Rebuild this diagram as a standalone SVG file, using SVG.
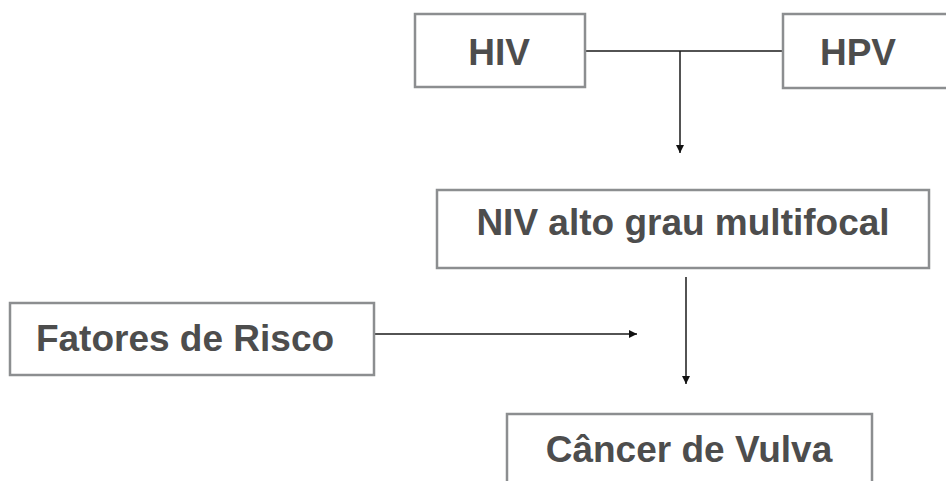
<svg xmlns="http://www.w3.org/2000/svg" width="946" height="481" viewBox="0 0 946 481">
<style>
.box{fill:#fff;stroke:#8c8e90;stroke-width:2.5}
.lbl{font-family:"Liberation Sans",Arial,sans-serif;font-weight:bold;font-size:37px;fill:#4d4d4d;text-anchor:middle}
.con{fill:none;stroke:#1a1a1a;stroke-width:1.5}
</style>
<defs>
<marker id="ah" viewBox="0 0 10 10" refX="10" refY="5" markerWidth="8" markerHeight="8" markerUnits="userSpaceOnUse" orient="auto">
<path d="M0,0 L10,5 L0,10 z" fill="#111"/>
</marker>
</defs>
<rect width="946" height="481" fill="#fff"/>
<g id="connectors">
<line class="con" x1="585" y1="51" x2="783" y2="51"/>
<line class="con" x1="680" y1="51" x2="680" y2="153" stroke="#444" stroke-width="2" marker-end="url(#ah)"/>
<line class="con" x1="686" y1="277" x2="686" y2="384" marker-end="url(#ah)"/>
<line class="con" x1="374" y1="334" x2="637" y2="334" marker-end="url(#ah)"/>
</g>
<g id="hiv">
<rect class="box" x="415" y="14" width="170" height="73"/>
<text class="lbl" x="499" y="65">HIV</text>
</g>
<g id="hpv">
<rect class="box" x="783" y="14" width="170" height="74"/>
<text class="lbl" x="858" y="65">HPV</text>
</g>
<g id="niv">
<rect class="box" x="437" y="190" width="492" height="78"/>
<text class="lbl" x="683" y="235">NIV alto grau multifocal</text>
</g>
<g id="fatores">
<rect class="box" x="10" y="303" width="364" height="72"/>
<text class="lbl" x="185" y="351">Fatores de Risco</text>
</g>
<g id="cancer">
<rect class="box" x="507" y="414" width="365" height="80"/>
<text class="lbl" x="689" y="462">Câncer de Vulva</text>
</g>
</svg>
